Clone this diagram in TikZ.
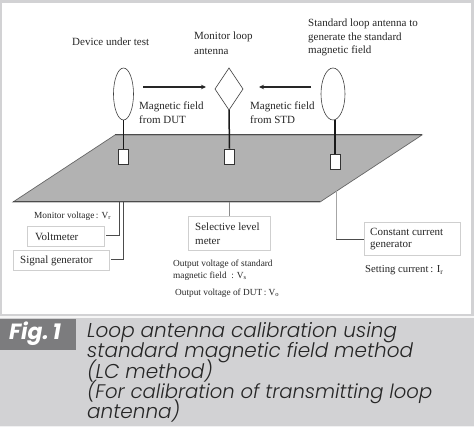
\documentclass[tikz,border=0pt]{standalone}
\usepackage{fontspec}
\setmainfont{Liberation Serif}
\newfontfamily\capfont{Poppins Light}
\newfontfamily\figfont{Poppins}
\usetikzlibrary{arrows.meta,shapes.geometric}
\definecolor{bgg}{HTML}{D2D2D4}
\definecolor{plate}{HTML}{B2B2B2}
\definecolor{figbox}{HTML}{7C7C7E}
\definecolor{edge}{HTML}{CFCFCF}
\tikzset{
  lbl/.style={anchor=west,inner sep=0pt,font=\fontsize{11}{11}\selectfont,text=black!85},
  small/.style={anchor=west,inner sep=0pt,font=\fontsize{9.3}{9.3}\selectfont,text=black!85},
  box/.style={anchor=west,inner sep=0pt,font=\fontsize{11}{11}\selectfont,text=black!85},
  panel/.style={draw=edge,line width=0.9pt,fill=white},
  stem/.style={line width=1.5pt,black!90},
  feed/.style={draw=black!80,line width=0.8pt,fill=white},
  loopant/.style={draw=black!75,line width=0.6pt,fill=white},
  field/.style={line width=1.2pt,black!85,-{Stealth[length=5pt,width=4.5pt]}},
  wire/.style={line width=0.8pt,black!70},
  capt/.style={anchor=base west,inner sep=0pt,font=\capfont\itshape\fontsize{20}{20}\selectfont,text=black!85}
}
\begin{document}
\begin{tikzpicture}[x=1pt,y=-1pt]
\useasboundingbox (0,0) rectangle (474,427);
\fill[bgg] (0,0) rectangle (474,427);
\fill[white] (2,3) rectangle (471,314);
\fill[white!80!bgg] (0,316) rectangle (474,318);
\fill[white!70!bgg] (0,426) rectangle (474,427);
% plate
\filldraw[fill=plate,draw=black!60,line width=0.7pt] (115,135) -- (422,135) -- (320,202) -- (13,202) -- cycle;
\draw[black!70,line width=1pt] (115,135) -- (422,135);
\draw[black!70,line width=1pt] (13,202) -- (320,202);
% antennas
\node[loopant,ellipse,minimum width=20pt,minimum height=52pt,inner sep=0pt] (dut) at (123.5,94) {};
\node[loopant,ellipse,minimum width=24pt,minimum height=52pt,inner sep=0pt] (std) at (333,94) {};
\coordinate (monT) at (229,68); \coordinate (monR) at (243,89); \coordinate (monB) at (229,110); \coordinate (monL) at (215,89);
\draw[loopant] (monT) -- (monR) -- (monB) -- (monL) -- cycle;
\node[feed,minimum width=10pt,minimum height=15pt,inner sep=0pt] (fd) at (123.5,156.5) {};
\node[feed,minimum width=10pt,minimum height=15pt,inner sep=0pt] (fm) at (229.5,156.5) {};
\node[feed,minimum width=10pt,minimum height=15pt,inner sep=0pt] (fs) at (335,161.5) {};
\draw[stem] (dut.south) -- (fd.north);
\draw[stem] (monB) -- (fm.north);
\draw[stem] (335,120) -- (fs.north);
% field arrows
\coordinate (a1s) at (143,87); \coordinate (a1e) at (206,87);
\coordinate (a2s) at (311,87); \coordinate (a2e) at (259,87);
\draw[field] (a1s) -- (a1e);
\draw[field] (a2s) -- (a2e);
% boxes
\node[panel,minimum width=77pt,minimum height=20pt,inner sep=0pt] (volt) at (65.5,236) {};
\node[panel,minimum width=96pt,minimum height=20pt,inner sep=0pt] (sig) at (61,260) {};
\node[panel,minimum width=82pt,minimum height=34pt,inner sep=0pt] (sel) at (229,233) {};
\node[panel,minimum width=96pt,minimum height=33pt,inner sep=0pt] (cur) at (412,238.5) {};
% wires
\draw[wire,line width=1pt] (119,202) |- (106,236);
\draw[wire] (123,202) |- (111,259);
\draw[black!45,line width=0.8pt] (229,202) -- (sel.north);
\draw[black!35,line width=1pt] (336,190) -- (336,240);
\draw[black!70,line width=1pt] (336,240) -- (364,240);
% labels
\node[lbl] (t1) at (72,41.5) {Device under test};
\node[lbl] (t2a) at (194,37) {Monitor loop};
\node[lbl] (t2b) at (194,51) {antenna};
\node[lbl] (t3a) at (308,24) {Standard loop antenna to};
\node[lbl] (t3b) at (308,37.5) {generate the standard};
\node[lbl] (t3c) at (308,51) {magnetic field};
\node[lbl] (t4a) at (139,107) {Magnetic field};
\node[lbl] (t4b) at (139,120) {from DUT};
\node[lbl] (t5a) at (250,107) {Magnetic field};
\node[lbl] (t5b) at (250,120) {from STD};
\node[small] (t6) at (34,216.5) {Monitor voltage\,: V$_{\mathrm r}$};
\node[box] (t7) at (35,237) {Voltmeter};
\node[box] (t8) at (20,261) {Signal generator};
\node[box] (t9a) at (195,227) {Selective level};
\node[box] (t9b) at (195,241) {meter};
\node[small] (t10a) at (173,264) {Output voltage of standard};
\node[small] (t10b) at (173,276) {magnetic field\ \ : V$_{\mathrm s}$};
\node[small] (t11) at (175,293) {Output voltage of DUT\,: V$_{\mathrm o}$};
\node[box] (t12a) at (370,232) {Constant current};
\node[box] (t12b) at (370,246) {generator};
\node[lbl,font=\fontsize{10.7}{10.7}\selectfont] (t13) at (365,270) {Setting current\,: I$_{\mathrm r}$};
% caption
\node[fill=figbox,minimum width=76pt,minimum height=31pt,inner sep=0pt] (fig) at (38,334.5) {};
\node[inner sep=0pt,text=white,font=\figfont\bfseries\itshape\fontsize{22}{22}\selectfont] (figt) at (35,333.5) {Fig.\,1};
\node[capt] (c1) at (87,338) {Loop antenna calibration using};
\node[capt] (c2) at (87,358) {standard magnetic field method};
\node[capt] (c3) at (87,378.5) {(LC method)};
\node[capt,font=\capfont\itshape\fontsize{19.6}{20}\selectfont] (c4) at (87,399) {(For calibration of transmitting loop};
\node[capt] (c5) at (87,419) {antenna)};
\end{tikzpicture}
\end{document}
